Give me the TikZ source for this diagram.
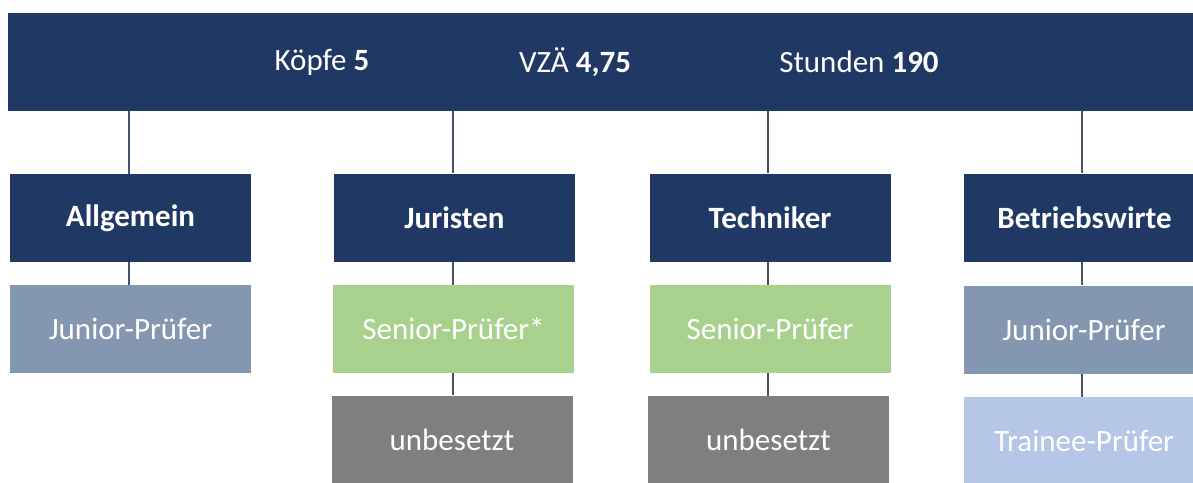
\documentclass[tikz,border=0pt]{standalone}
\usepackage{fontspec}
\setmainfont{Carlito}
\definecolor{navy}{HTML}{203864}
\definecolor{juniorc}{HTML}{8497B0}
\definecolor{seniorc}{HTML}{A9D18E}
\definecolor{emptyc}{HTML}{7F7F7F}
\definecolor{traineec}{HTML}{B4C7E7}
\definecolor{linec}{HTML}{44546A}
\tikzset{
  box/.style={rectangle, inner sep=0pt, minimum width=241pt, minimum height=88pt, text=white, font=\fontsize{31}{36}\selectfont},
  head/.style={box, fill=navy, font=\fontsize{31}{36}\selectfont\bfseries},
  junior/.style={box, fill=juniorc},
  senior/.style={box, fill=seniorc},
  vacant/.style={box, fill=emptyc},
  trainee/.style={box, fill=traineec},
  toptext/.style={text=white, inner sep=0pt, font=\fontsize{31}{36}\selectfont},
  conn/.style={draw=linec, line width=1.3pt}
}
\begin{document}
\begin{tikzpicture}[x=1pt,y=-1pt]
\clip (0,0) rectangle (1193,482);
\fill[white] (0,0) rectangle (1193,482);
% top bar
\node[rectangle, fill=navy, inner sep=0pt, minimum width=1200pt, minimum height=98pt, anchor=north west] (top) at (8,13) {};
\node[toptext] (koepfe) at (322,62) {Köpfe \textbf{5}};
\node[toptext] (vza) at (575,62) {VZÄ \textbf{4,75}};
\node[toptext] (std) at (859,62) {Stunden \textbf{190}};
% heads
\node[head] (allg) at (130.5,218) {Allgemein};
\node[head] (jur) at (454.5,217.5) {Juristen};
\node[head] (tech) at (770,217.5) {Techniker};
\node[head] (bw) at (1084.5,217.5) {Betriebswirte};
% level 2
\node[junior] (allgj) at (130.5,329) {Junior-Prüfer};
\node[senior] (jurs) at (453.5,329) {Senior-Prüfer*};
\node[senior] (techs) at (770,329) {Senior-Prüfer};
\node[junior] (bwj) at (1084,329.5) {Junior-Prüfer};
% level 3
\node[vacant] (juru) at (452,439.5) {unbesetzt};
\node[vacant] (techu) at (768.5,440) {unbesetzt};
\node[trainee] (bwt) at (1084,441) {Trainee-Prüfer};
% connectors
\coordinate (c1) at (129,111);
\coordinate (c2) at (453,111);
\coordinate (c3) at (768,111);
\coordinate (c4) at (1082,111);
\draw[conn] (c1) -- (c1 |- allg.north);
\draw[conn] (c2) -- (c2 |- jur.north);
\draw[conn] (c3) -- (c3 |- tech.north);
\draw[conn] (c4) -- (c4 |- bw.north);
\draw[conn] (c1 |- allg.south) -- (c1 |- allgj.north);
\draw[conn] (c2 |- jur.south) -- (c2 |- jurs.north);
\draw[conn] (c3 |- tech.south) -- (c3 |- techs.north);
\draw[conn] (c4 |- bw.south) -- (c4 |- bwj.north);
\draw[conn] (c2 |- jurs.south) -- (c2 |- juru.north);
\draw[conn] (c3 |- techs.south) -- (c3 |- techu.north);
\draw[conn] (c4 |- bwj.south) -- (c4 |- bwt.north);
\end{tikzpicture}
\end{document}
